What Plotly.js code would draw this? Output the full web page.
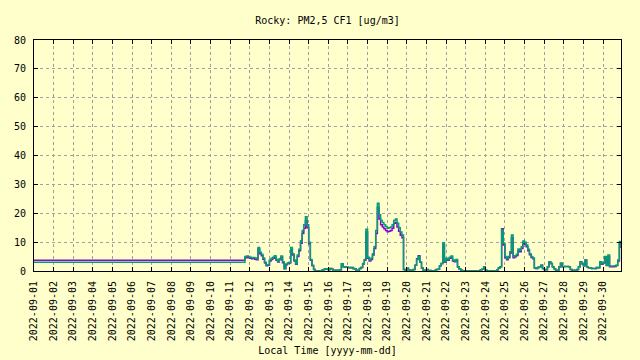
<!DOCTYPE html>
<html>
<head>
<meta charset="utf-8">
<script src="https://cdn.plot.ly/plotly-3.0.1.min.js"></script>
<style>html,body{margin:0;padding:0;background:#ffffcc;}#chart{width:640px;height:360px;}</style>
</head>
<body>
<div id="chart"></div>
<script>
// ---- data ----
const chartTitle = 'Rocky: PM2,5 CF1 [ug/m3]';
const xTitle = 'Local Time [yyyy-mm-dd]';
const xRange = ['2022-09-01 00:00', '2022-09-30 22:00'];

// first sample (flat segment) then 2-hourly samples from 2022-09-11 18:00
const firstTime = '2022-09-01 00:00';
const seriesStart = '2022-09-11T18:00:00Z';
const stepHours = 2;

const firstPurple = 3.7;
const firstGreen = 3.0;

const purpleValues = [
  4.6,4.8,4.6,4.4,4.2,4.3,4.1,3.9,7.6,6.0,5.3,4.1,
  2.8,1.8,2.0,3.5,4.0,4.4,4.8,3.7,3.1,3.9,4.8,2.9,
  0.8,2.2,2.6,2.8,7.4,5.5,3.5,2.3,5.0,7.0,9.6,13.0,
  14.8,17.5,15.0,9.4,3.7,1.8,0.5,0.1,0.0,0.0,0.1,0.3,
  0.5,0.8,0.6,0.4,0.9,0.6,0.3,0.3,0.3,0.3,0.4,2.5,
  1.5,1.4,1.3,1.2,1.1,1.2,0.9,0.7,0.3,0.3,0.9,1.2,
  2.4,3.7,13.5,4.4,3.5,4.0,5.5,7.8,13.0,22.0,18.0,16.0,
  15.2,14.6,14.0,13.6,13.8,14.0,14.8,16.5,16.8,15.2,13.8,12.4,
  11.5,0.5,0.1,0.9,0.4,0.3,0.3,0.5,2.0,4.2,5.3,3.0,
  1.0,0.3,0.3,0.5,0.2,0.2,0.1,0.1,0.2,0.5,0.6,1.8,
  2.5,9.0,3.0,4.0,3.7,4.4,4.8,3.5,3.2,3.7,1.4,0.7,
  0.3,0.1,0.0,0.0,0.1,0.0,0.0,0.0,0.1,0.0,0.0,0.1,
  0.4,0.6,1.5,0.3,0.1,0.1,0.1,0.0,0.1,0.1,0.4,1.0,
  1.5,14.6,9.0,4.6,3.9,4.6,6.2,11.5,4.6,4.9,5.4,7.0,
  6.7,7.8,9.6,9.3,8.4,7.0,5.6,4.7,4.2,1.0,0.9,1.2,
  1.5,2.0,0.9,0.5,0.4,1.5,3.2,2.6,1.5,0.8,0.3,0.3,
  1.5,2.7,1.5,1.6,1.6,1.6,1.5,0.5,0.3,0.3,0.3,0.5,
  1.5,3.2,2.5,1.8,3.8,1.5,1.1,1.0,0.9,0.9,0.9,1.2,
  1.1,3.0,2.3,2.8,4.7,1.9,5.1,1.5,1.5,1.5,1.6,1.9,
  3.5,9.5,8.0
];

const greenValues = [
  5.0,5.2,5.0,4.8,4.6,4.7,4.5,4.2,8.1,6.5,5.8,4.5,
  3.0,2.0,2.2,3.8,4.4,4.8,5.3,4.0,3.4,4.2,5.2,3.2,
  0.9,2.4,2.8,3.0,8.1,6.0,3.8,2.5,5.5,7.5,10.5,14.0,
  16.0,18.8,16.0,10.0,4.0,2.0,0.5,0.1,0.0,0.0,0.1,0.3,
  0.5,0.8,0.6,0.4,0.9,0.6,0.3,0.3,0.3,0.3,0.4,2.5,
  1.5,1.4,1.3,1.2,1.1,1.2,0.9,0.7,0.3,0.3,0.9,1.2,
  2.6,4.0,14.5,4.8,3.8,4.4,6.0,8.5,14.0,23.5,19.5,17.5,
  16.8,16.0,15.4,14.8,15.0,15.2,16.0,17.5,18.0,16.5,15.0,13.5,
  12.5,0.5,0.1,1.0,0.4,0.3,0.3,0.5,2.0,4.0,5.0,3.0,
  1.0,0.3,0.3,0.5,0.2,0.2,0.1,0.1,0.2,0.5,0.6,1.8,
  2.7,9.8,3.2,4.4,4.0,4.8,5.2,3.8,3.5,4.0,1.5,0.7,
  0.3,0.1,0.0,0.0,0.1,0.0,0.0,0.0,0.1,0.0,0.0,0.1,
  0.4,0.6,1.5,0.3,0.1,0.1,0.1,0.0,0.1,0.1,0.4,1.0,
  1.5,14.2,9.6,5.0,4.2,5.0,6.7,12.5,5.0,5.3,5.8,7.6,
  7.2,8.4,10.4,10.0,9.0,7.5,6.0,5.0,4.5,1.0,0.9,1.2,
  1.5,2.0,0.9,0.5,0.4,1.5,3.2,2.6,1.5,0.8,0.3,0.3,
  1.5,2.7,1.5,1.6,1.6,1.6,1.5,0.5,0.3,0.3,0.3,0.5,
  1.5,3.2,2.5,1.8,3.8,1.5,1.1,1.0,0.9,0.9,0.9,1.2,
  1.1,3.2,2.5,3.0,5.0,2.0,5.5,1.7,1.7,1.7,1.8,2.0,
  3.8,10.2,8.5
];

// ---- sample timestamps ----
function fmt(d){
  const p = n => String(n).padStart(2,'0');
  return d.getUTCFullYear()+'-'+p(d.getUTCMonth()+1)+'-'+p(d.getUTCDate())+' '+p(d.getUTCHours())+':'+p(d.getUTCMinutes());
}
const t0 = Date.parse(seriesStart);
const times = greenValues.map((_, i) => fmt(new Date(t0 + i*stepHours*3600000)));

const xs = [firstTime].concat(times);
const purpleY = [firstPurple].concat(purpleValues);
const greenY = [firstGreen].concat(greenValues);

const FONT = 'DejaVu Sans Mono, monospace';
const BG = '#ffffcc';

const traces = [
  {x: xs, y: purpleY, type: 'scatter', mode: 'lines',
   line: {color: '#9400d3', width: 1.5, shape: 'hv'}, name: 'PM2,5 CF1 A', hoverinfo: 'x+y'},
  {x: xs, y: greenY, type: 'scatter', mode: 'lines',
   line: {color: '#009e73', width: 1.5, shape: 'hv'}, name: 'PM2,5 CF1 B', hoverinfo: 'x+y'}
];

const layout = {
  width: 640, height: 360,
  margin: {l: 34, r: 19, t: 40, b: 89, pad: 0},
  paper_bgcolor: BG, plot_bgcolor: BG,
  showlegend: false,
  font: {family: FONT, size: 10, color: '#000'},
  title: {text: chartTitle, font: {family: FONT, size: 10, color: '#000'},
          x: 0.5, xref: 'paper', xanchor: 'center', y: 1 - 20/360, yref: 'container', yanchor: 'middle'},
  xaxis: {
    type: 'date', range: xRange,
    dtick: 86400000, tick0: '2022-09-01', tickformat: '%Y-%m-%d', tickangle: -90,
    ticks: 'inside', ticklen: 4, tickcolor: '#000', mirror: 'allticks',
    showline: true, linecolor: '#000', linewidth: 1,
    showgrid: true, gridcolor: '#a0a0a0', gridwidth: 1, griddash: '3px,3px',
    zeroline: false, ticklabelstandoff: 5,
    tickfont: {family: FONT, size: 10, color: '#000'},
    title: {text: xTitle, font: {family: FONT, size: 10, color: '#000'}, standoff: 6},
    automargin: false
  },
  yaxis: {
    range: [0, 80], dtick: 10, tick0: 0,
    ticks: 'inside', ticklen: 4, tickcolor: '#000', mirror: 'allticks',
    showline: true, linecolor: '#000', linewidth: 1,
    showgrid: true, gridcolor: '#a0a0a0', gridwidth: 1, griddash: '3px,3px',
    zeroline: false, ticklabelstandoff: 5,
    tickfont: {family: FONT, size: 10, color: '#000'},
    automargin: false
  }
};

Plotly.newPlot('chart', traces, layout, {displayModeBar: false, staticPlot: true});
</script>
</body>
</html>
